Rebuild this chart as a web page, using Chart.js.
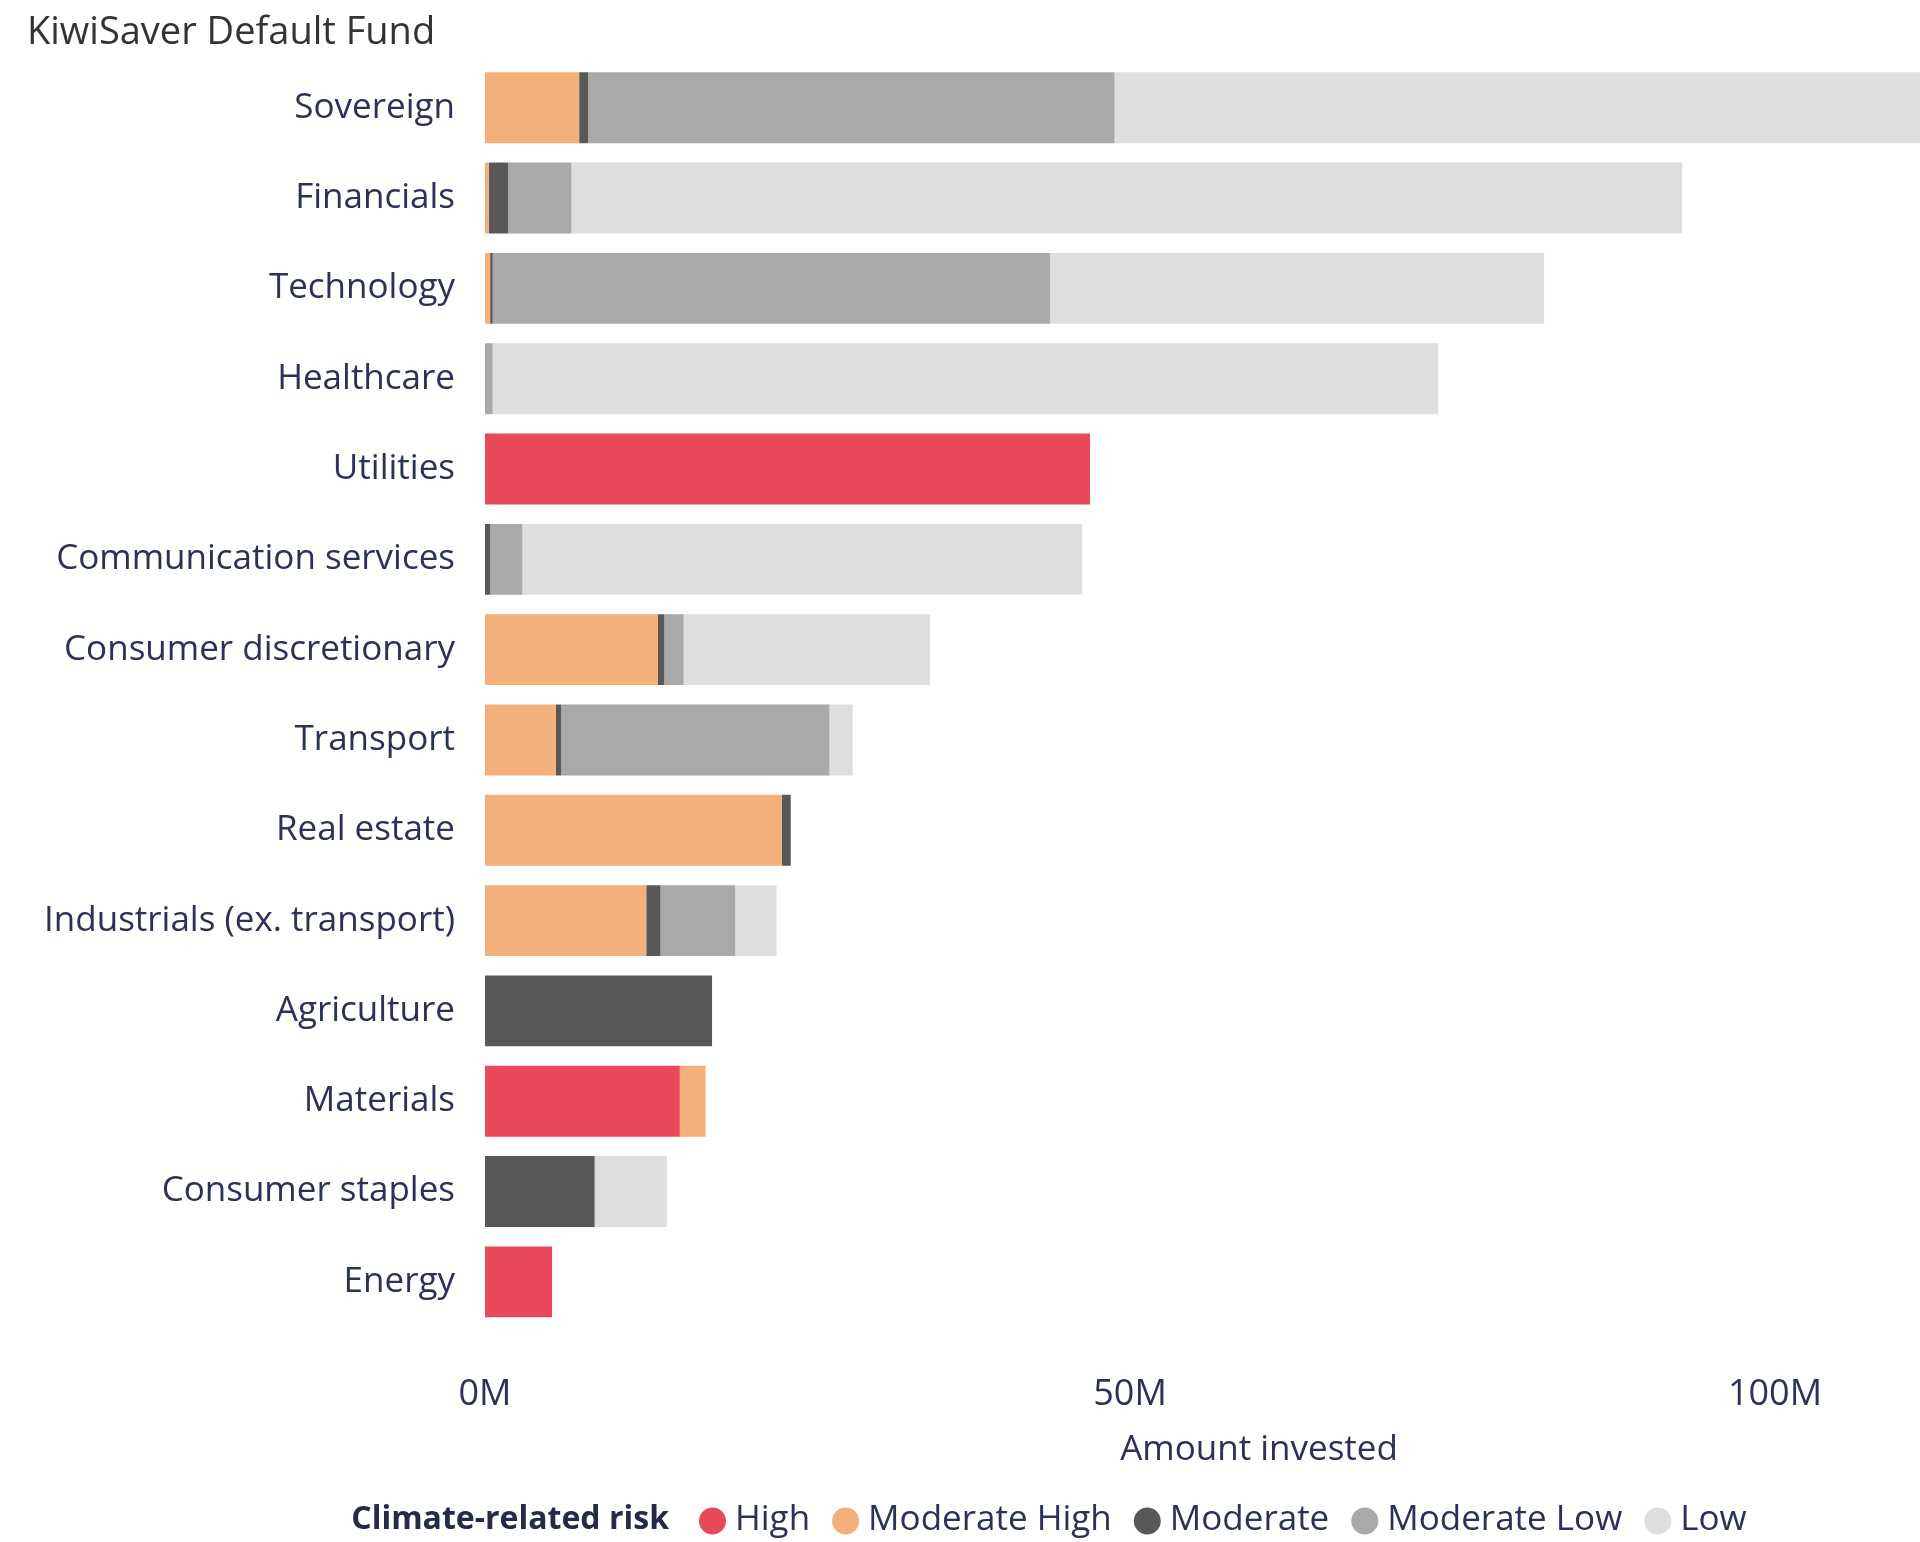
<!DOCTYPE html>
<html>
<head>
<meta charset="utf-8">
<script src="https://cdn.jsdelivr.net/npm/chart.js@4.4.1/dist/chart.umd.min.js"></script>
<style>
  html, body { margin: 0; padding: 0; background: #fff; overflow: hidden; }
  #wrap { position: absolute; left: 0; top: 0; width: 2094px; height: 1542px; }
</style>
</head>
<body>
<div id="wrap"><canvas id="riskChart"></canvas></div>
<script>
// values in millions
const sectors = ['Sovereign', 'Financials', 'Technology', 'Healthcare', 'Utilities',
  'Communication services', 'Consumer discretionary', 'Transport', 'Real estate',
  'Industrials (ex. transport)', 'Agriculture', 'Materials', 'Consumer staples', 'Energy'];

const high         = [0,    0,    0,    0,    46.9, 0,    0,    0,    0,    0,    0,    15.1, 0,   5.2];
const moderateHigh = [7.3,  0.3,  0.4,  0,    0,    0,    13.4, 5.5,  23.0, 12.5, 0,    2.0,  0,   0];
const moderate     = [0.7,  1.5,  0.2,  0,    0,    0.4,  0.5,  0.4,  0.7,  1.1,  17.6, 0,    8.5, 0];
const moderateLow  = [40.8, 4.9,  43.2, 0.6,  0,    2.5,  1.5,  20.8, 0,    5.8,  0,    0,    0,   0];
const low          = [64.0, 86.1, 38.3, 73.3, 0,    43.4, 19.1, 1.8,  0,    3.2,  0,    0,    5.6, 0];

const xTicks = [0, 50, 100];
const riskNames = ['High', 'Moderate High', 'Moderate', 'Moderate Low', 'Low'];
const riskColors = ['#e8495b', '#f3b07a', '#585858', '#a9a9a9', '#dedede'];
const legendTitle = 'Climate-related risk';

const FONT = "'Open Sans', 'Noto Sans', sans-serif";
const NAVY = '#2c3157';

// legend drawn by hand so the bold title sits inline with the items
const riskLegend = {
  id: 'riskLegend',
  afterDraw(chart) {
    const ctx = chart.ctx;
    const y = 1520;
    ctx.save();
    ctx.textBaseline = 'middle';
    ctx.font = 'bold 32px ' + FONT;
    const titleW = ctx.measureText(legendTitle).width;
    ctx.font = '35px ' + FONT;
    const widths = riskNames.map(n => ctx.measureText(n).width);
    const dot = 27, afterTitle = 30, dotGap = 9, itemGap = 22;
    const total = titleW + afterTitle + widths.reduce((a, b) => a + b, 0)
      + riskNames.length * (dot + dotGap) + (riskNames.length - 1) * itemGap;
    let x = chart.width / 2 - total / 2 + 2;

    ctx.fillStyle = '#252a4a';
    ctx.font = 'bold 32px ' + FONT;
    ctx.textAlign = 'left';
    ctx.fillText(legendTitle, x, y);
    x += titleW + afterTitle;

    ctx.font = '35px ' + FONT;
    riskNames.forEach((name, i) => {
      ctx.fillStyle = riskColors[i];
      ctx.beginPath();
      ctx.arc(x + dot / 2, y + 1, dot / 2, 0, Math.PI * 2);
      ctx.fill();
      x += dot + dotGap;
      ctx.fillStyle = NAVY;
      ctx.fillText(name, x, y);
      x += widths[i] + itemGap;
    });
    ctx.restore();
  }
};

const series = [high, moderateHigh, moderate, moderateLow, low];

new Chart(document.getElementById('riskChart'), {
  type: 'bar',
  data: {
    labels: sectors,
    datasets: series.map((vals, i) => ({
      label: riskNames[i],
      data: vals,
      backgroundColor: riskColors[i],
      borderWidth: 0,
      categoryPercentage: 1,
      barPercentage: 0.785
    }))
  },
  options: {
    indexAxis: 'y',
    responsive: true,
    maintainAspectRatio: false,
    animation: false,
    layout: { padding: { left: 27, right: 61, top: 0, bottom: 50 } },
    plugins: {
      legend: { display: false },
      tooltip: { enabled: false },
      title: {
        display: true,
        text: 'KiwiSaver Default Fund',
        align: 'start',
        color: '#333333',
        font: { family: FONT, size: 38, weight: 'normal' },
        padding: { top: 10, bottom: 7 }
      }
    },
    scales: {
      x: {
        stacked: true,
        min: 0,
        max: 120,
        grid: { display: false },
        border: { display: false },
        afterBuildTicks: scale => { scale.ticks = xTicks.map(v => ({ value: v })); },
        afterFit: scale => { scale.height = 165; },
        ticks: {
          padding: 38,
          color: NAVY,
          font: { family: FONT, size: 36 },
          maxRotation: 0,
          callback: v => v + 'M'
        },
        title: {
          display: true,
          text: 'Amount invested',
          color: NAVY,
          font: { family: FONT, size: 35 },
          padding: { top: 10, bottom: 21 }
        }
      },
      y: {
        stacked: true,
        grid: { display: false },
        border: { display: false },
        afterFit: scale => { scale.width = 485 - 27; },
        ticks: {
          padding: 22,
          color: NAVY,
          font: { family: FONT, size: 35 }
        }
      }
    }
  },
  plugins: [riskLegend]
});
</script>
</body>
</html>
